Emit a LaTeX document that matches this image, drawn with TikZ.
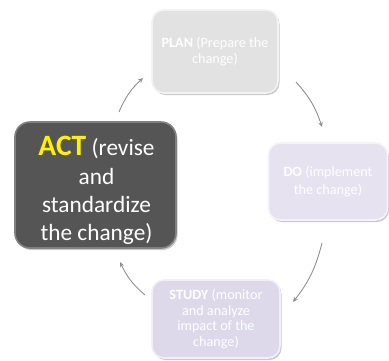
\documentclass[tikz,border=0pt]{standalone}
\usepackage{fontspec}
\setmainfont{Carlito}
\usetikzlibrary{shadows,arrows.meta}
\definecolor{plancol}{HTML}{E2E2E2}
\definecolor{docol}{HTML}{E6E2EF}
\definecolor{studycol}{HTML}{DDD9EA}
\definecolor{actcol}{HTML}{555555}
\definecolor{arrcol}{HTML}{909090}
\tikzset{
  box/.style={rounded corners=12pt, line width=1.6pt, align=center, text=white,
    inner sep=0pt, drop shadow={shadow xshift=1.5pt, shadow yshift=-2pt, opacity=0.35, fill=black!60}},
  smalltext/.style={font=\fontsize{14.2}{15.5}\selectfont},
  cyc/.style={draw=arrcol, line width=0.9pt, -{Stealth[length=5pt,width=4.5pt]}},
}
\begin{document}
\begin{tikzpicture}[x=1pt,y=-1pt]
\useasboundingbox (0,0) rectangle (389,360);
\node[box, fill=plancol, draw=white!60!plancol, minimum width=126pt, minimum height=83pt, smalltext] (plan) at (215,51.5)
  {\textbf{PLAN} (Prepare the\\change)};
\node[box, fill=docol, draw=white!60!docol, minimum width=119pt, minimum height=77pt,
  font=\fontsize{14.2}{17.5}\selectfont] (do) at (328,181.5)
  {\textbf{DO} (implement\\the change)};
\node[box, fill=studycol, draw=white!60!studycol, minimum width=128pt, minimum height=78pt, smalltext] (study) at (216,319)
  {\textbf{STUDY} (monitor\\and analyze\\impact of the\\change)};
\node[box, rounded corners=15pt, fill=actcol, draw=white!25!actcol, minimum width=161pt, minimum height=126pt] (act) at (95.5,185) {};
\node[align=center, text=white, inner sep=0pt, font=\fontsize{23.3}{28.3}\selectfont] (acttext) at (96.5,190.5)
  {{\fontsize{29.5}{28.3}\selectfont\textbf{\textcolor{yellow}{ACT}}} (revise\\and\\standardize\\the change)};
\coordinate (a1s) at (119,112); \coordinate (a1e) at (143,78);
\coordinate (a2s) at (296,82);  \coordinate (a2e) at (322,127);
\coordinate (a3s) at (322,243); \coordinate (a3e) at (293,302);
\coordinate (a4s) at (145,295); \coordinate (a4e) at (120,262);
\draw[cyc] (a1s) to[bend left=12] (a1e);
\draw[cyc] (a2s) to[bend left=12] (a2e);
\draw[cyc] (a3s) to[bend left=12] (a3e);
\draw[cyc] (a4s) to[bend left=12] (a4e);
\end{tikzpicture}
\end{document}
